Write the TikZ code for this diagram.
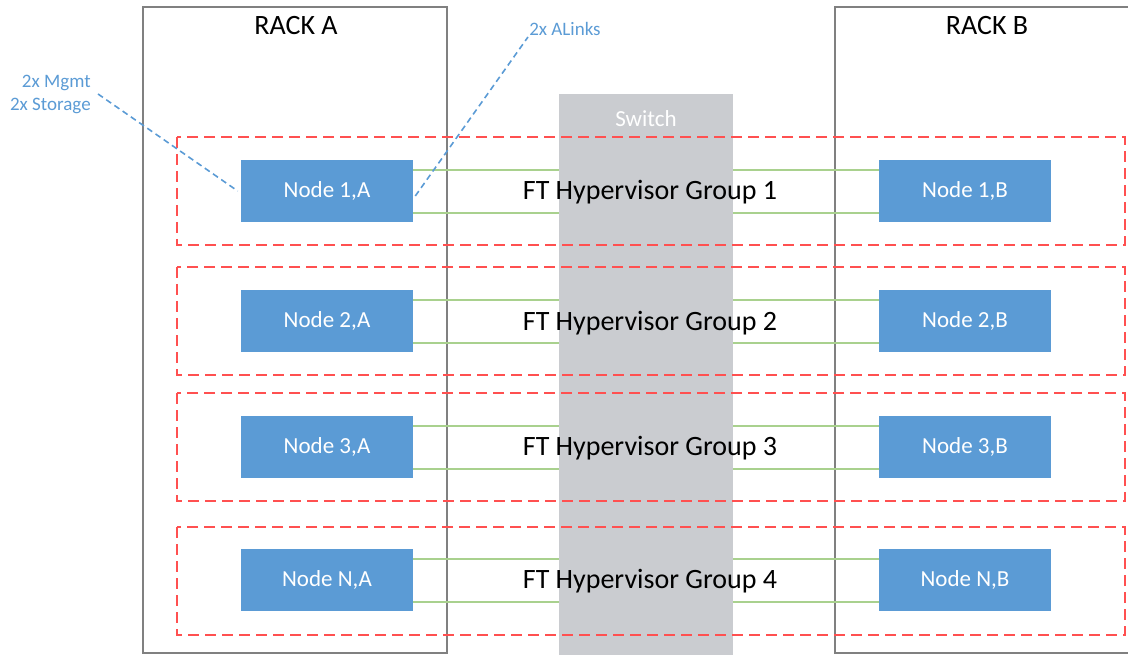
\documentclass[tikz,border=0pt]{standalone}
\usepackage{fontspec}
\setmainfont{Carlito}
\usetikzlibrary{positioning}

\definecolor{nodeblue}{RGB}{91,155,213}
\definecolor{linkgreen}{RGB}{169,209,142}
\definecolor{groupred}{RGB}{255,80,80}
\definecolor{switchgray}{RGB}{202,204,208}
\definecolor{rackgray}{RGB}{128,128,128}

\begin{document}
\begin{tikzpicture}[x=1pt, y=-1pt, semithick]

        \tikzstyle{rack}=[draw=rackgray, line width=2.4pt]
        \tikzstyle{server}=[fill=nodeblue, text=white, minimum width=172pt, minimum height=62pt, inner sep=0pt, font=\fontsize{23}{28}\selectfont]
        \tikzstyle{link}=[draw=linkgreen, line width=2pt]
        \tikzstyle{group}=[draw=groupred, line width=2.6pt, dash pattern=on 11pt off 6pt]
        \tikzstyle{grouplabel}=[text=black, font=\fontsize{28}{34}\selectfont]
        \tikzstyle{callout}=[draw=nodeblue, line width=1.6pt, dash pattern=on 6pt off 4pt]
        \tikzstyle{note}=[text=nodeblue, font=\fontsize{19}{23}\selectfont, inner sep=1pt]

        \useasboundingbox (0,0) rectangle (1128,655);
        \clip (0,0) rectangle (1128,655);

        % racks
        \draw[rack] (143,7) rectangle (447,653);
        \draw[rack] (835,7) rectangle (1160,653);
        \node[font=\fontsize{28}{34}\selectfont] (rackA) at (296,26) {RACK A};
        \node[font=\fontsize{28}{34}\selectfont] (rackB) at (987,26) {RACK B};

        % servers
        \node[server] (a1) at (327,191) {Node 1,A};
        \node[server] (a2) at (327,321) {Node 2,A};
        \node[server] (a3) at (327,447) {Node 3,A};
        \node[server] (a4) at (327,580) {Node N,A};
        \node[server] (b1) at (965,191) {Node 1,B};
        \node[server] (b2) at (965,321) {Node 2,B};
        \node[server] (b3) at (965,447) {Node 3,B};
        \node[server] (b4) at (965,580) {Node N,B};

        % links
        \path[link]
        ([yshift=-10pt]a1.north east) edge ([yshift=-10pt]b1.north west)
        ([yshift=9pt]a1.south east)   edge ([yshift=9pt]b1.south west)
        ([yshift=-10pt]a2.north east) edge ([yshift=-10pt]b2.north west)
        ([yshift=9pt]a2.south east)   edge ([yshift=9pt]b2.south west)
        ([yshift=-10pt]a3.north east) edge ([yshift=-10pt]b3.north west)
        ([yshift=9pt]a3.south east)   edge ([yshift=9pt]b3.south west)
        ([yshift=-10pt]a4.north east) edge ([yshift=-10pt]b4.north west)
        ([yshift=9pt]a4.south east)   edge ([yshift=9pt]b4.south west);

        % switch
        \fill[switchgray] (559,94) rectangle (733,660);
        \node[text=white, font=\fontsize{23}{28}\selectfont] (switch) at (646,119) {Switch};

        % FT groups
        \draw[group] (177,137) rectangle (1125,245);
        \draw[group] (177,267) rectangle (1125,375);
        \draw[group] (177,393) rectangle (1125,501);
        \draw[group] (177,527) rectangle (1125,635);
        \node[grouplabel] (g1) at (650,192) {FT Hypervisor Group 1};
        \node[grouplabel] (g2) at (650,323) {FT Hypervisor Group 2};
        \node[grouplabel] (g3) at (650,448) {FT Hypervisor Group 3};
        \node[grouplabel] (g4) at (650,581) {FT Hypervisor Group 4};

        % callouts
        \node[note, align=right, anchor=east] (mgmt) at (92,94) {2x Mgmt\\2x Storage};
        \node[note, anchor=west] (alinks) at (528,29) {2x ALinks};
        \draw[callout] ([xshift=6pt]mgmt.east) -- ([xshift=-3pt]a1.west);
        \draw[callout] ([xshift=2pt,yshift=-5pt]a1.east) -- (alinks.south west);

\end{tikzpicture}
\end{document}
